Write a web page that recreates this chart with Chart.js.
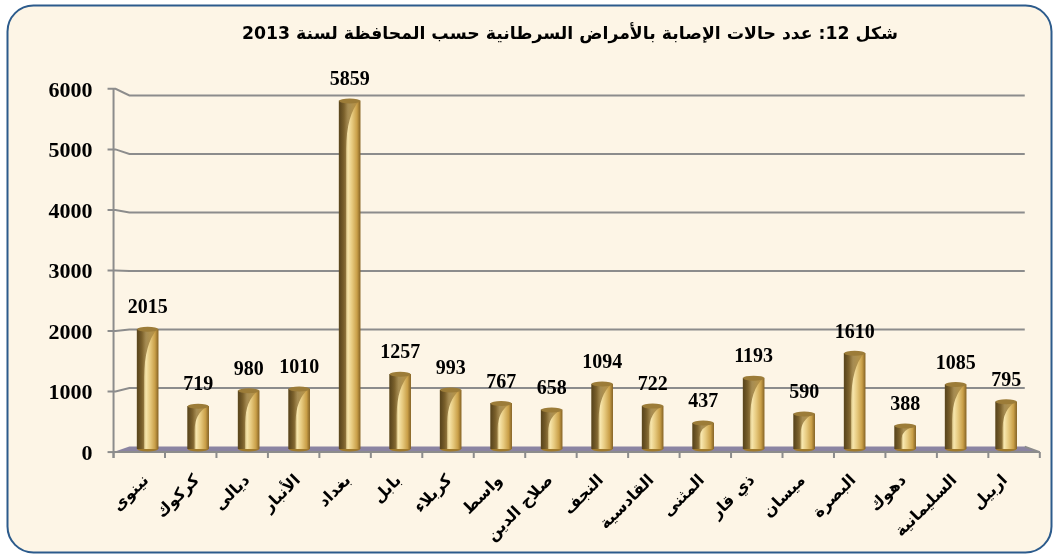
<!DOCTYPE html>
<html lang="ar">
<head>
<meta charset="utf-8">
<script src="https://cdn.jsdelivr.net/npm/chart.js@4.4.1/dist/chart.umd.min.js"></script>
<style>
    html, body { margin: 0; padding: 0; background: #fff; }
</style>
</head>
<body>
<canvas id="myChart" width="1059" height="556"></canvas>
<script>
// governorates, left to right as in the figure
const provinces = ['نينوى', 'كركوك', 'ديالى', 'الأنبار', 'بغداد', 'بابل', 'كربلاء', 'واسط', 'صلاح الدين',
    'النجف', 'القادسية', 'المثنى', 'ذي قار', 'ميسان', 'البصرة', 'دهوك', 'السليمانية', 'اربيل'];
const cases = [2015, 719, 980, 1010, 5859, 1257, 993, 767, 658, 1094, 722, 437, 1193, 590, 1610, 388, 1085, 795];
const yTicks = [0, 1000, 2000, 3000, 4000, 5000, 6000];
const chartTitle = 'شكل 12: عدد حالات الإصابة بالأمراض السرطانية حسب المحافظة لسنة 2013';

const ARABIC = '"DejaVu Sans", Arial, sans-serif';
const SERIF = '"Liberation Serif", "Times New Roman", serif';

// fake 3d: back wall a bit smaller than the bar plane, front edge a bit bigger
const BACK = 0.985, FRONT = 1.019;
function persp(chart, x, y, k) {
    const a = chart.chartArea;
    const cx = a.left + (a.right - a.left) * 0.513;
    const cy = a.top + (a.bottom - a.top) * 0.545;
    return [cx + (x - cx) * k, cy + (y - cy) * k];
}

// cream panel with the rounded blue border
const framePlugin = {
    id: 'frame',
    beforeDraw(chart) {
        const ctx = chart.ctx;
        ctx.save();
        ctx.fillStyle = '#fff';
        ctx.fillRect(0, 0, chart.width, chart.height);
        ctx.beginPath();
        ctx.roundRect(7.5, 5.5, 1044, 547, 26);
        ctx.fillStyle = '#fdf5e6';
        ctx.fill();
        ctx.lineWidth = 2;
        ctx.strokeStyle = '#2c5b8c';
        ctx.stroke();
        ctx.restore();
    }
};

// floor, wall gridlines, front axes and their labels
const roomPlugin = {
    id: 'room',
    beforeDatasetsDraw(chart) {
        const ctx = chart.ctx, a = chart.chartArea, ys = chart.scales.y, xs = chart.scales.x;
        const y0 = ys.getPixelForValue(0);
        const bl = persp(chart, a.left, y0, BACK), br = persp(chart, a.right, y0, BACK);
        const fl = persp(chart, a.left, y0, FRONT), fr = persp(chart, a.right, y0, FRONT);
        ctx.save();
        ctx.beginPath();
        ctx.moveTo(bl[0], bl[1]);
        ctx.lineTo(br[0], br[1]);
        ctx.lineTo(fr[0], fr[1]);
        ctx.lineTo(fl[0], fl[1]);
        ctx.closePath();
        ctx.fillStyle = '#8b84a2';
        ctx.fill();

        ctx.strokeStyle = '#8c8c8c';
        ctx.lineWidth = 2;
        ctx.font = 'bold 22px ' + SERIF;
        ctx.textAlign = 'right';
        ctx.textBaseline = 'middle';
        ctx.fillStyle = '#000';
        yTicks.forEach(v => {
            const y = ys.getPixelForValue(v);
            const f = persp(chart, a.left, y, FRONT);
            const b = persp(chart, a.left, y, BACK);
            const e = persp(chart, a.right, y, BACK);
            ctx.beginPath();
            ctx.moveTo(f[0] - 6, f[1]);
            ctx.lineTo(f[0] + 2, f[1]);
            if (v > 0) {
                ctx.lineTo(b[0], b[1]);
                ctx.lineTo(e[0], e[1]);
            }
            ctx.stroke();
            ctx.fillText(String(v), f[0] - 21, f[1] + 2);
        });
        // vertical axis
        const top = persp(chart, a.left, ys.getPixelForValue(yTicks[yTicks.length - 1]), FRONT);
        ctx.beginPath();
        ctx.moveTo(top[0], top[1]);
        ctx.lineTo(fl[0], fl[1] + 6);
        ctx.stroke();
        // front edge + category ticks
        ctx.beginPath();
        ctx.moveTo(fl[0], fl[1]);
        ctx.lineTo(fr[0], fr[1]);
        ctx.moveTo(br[0], br[1]);
        ctx.lineTo(fr[0], fr[1]);
        const n = provinces.length, step = (a.right - a.left) / n;
        for (let i = 0; i <= n; i++) {
            const p = persp(chart, a.left + i * step, y0, FRONT);
            ctx.moveTo(p[0], p[1]);
            ctx.lineTo(p[0], p[1] + 6);
        }
        ctx.stroke();

        // slanted category names, right end under the bar
        ctx.font = 'bold 16px ' + ARABIC;
        ctx.textAlign = 'right';
        ctx.textBaseline = 'middle';
        provinces.forEach((name, i) => {
            const x = xs.getPixelForValue(i);
            ctx.save();
            ctx.translate(x - 1, y0 + 29);
            ctx.rotate(-Math.PI / 4);
            ctx.fillText(name, 0, 0);
            ctx.restore();
        });
        ctx.restore();
    },
    // cylinder shading + value labels
    afterDatasetsDraw(chart) {
        const ctx = chart.ctx;
        const meta = chart.getDatasetMeta(0);
        ctx.save();
        meta.data.forEach((el, i) => {
            const w = el.width, x = el.x, y = el.y, base = el.base, h = base - y;
            const l = x - w / 2;
            ctx.save();
            ctx.beginPath();
            ctx.rect(l, y, w, h);
            ctx.clip();
            // dark swoosh at the top left
            const drop = Math.min(h * 0.55, 48);
            ctx.beginPath();
            ctx.moveTo(l, y);
            ctx.lineTo(l + w * 0.95, y);
            ctx.quadraticCurveTo(l + w * 0.35, y + drop * 0.3, l + w * 0.33, y + drop);
            ctx.lineTo(l + w * 0.33, base);
            ctx.lineTo(l, base);
            ctx.closePath();
            const g = ctx.createLinearGradient(l, 0, l + w * 0.95, 0);
            g.addColorStop(0, 'rgba(88,68,28,0.95)');
            g.addColorStop(0.35, 'rgba(128,100,45,0.75)');
            g.addColorStop(1, 'rgba(175,140,65,0.6)');
            ctx.fillStyle = g;
            ctx.fill();
            ctx.restore();
            // top rim
            ctx.beginPath();
            ctx.ellipse(x, y, w / 2, 2.5, 0, 0, Math.PI * 2);
            ctx.fillStyle = '#9c7c38';
            ctx.fill();
            // bottom rounding
            ctx.beginPath();
            ctx.ellipse(x, base, w / 2, 2.5, 0, 0, Math.PI);
            ctx.fillStyle = '#a07a2c';
            ctx.fill();

            ctx.fillStyle = '#000';
            ctx.font = 'bold 20px ' + SERIF;
            ctx.textAlign = 'center';
            ctx.textBaseline = 'middle';
            ctx.fillText(String(cases[i]), x, y - 21);
        });
        ctx.restore();
    }
};

// golden cylinder body, shaded left to right
function goldFill(c) {
    const s = c.chart.scales.x;
    const x = s && c.dataIndex !== undefined ? s.getPixelForValue(c.dataIndex) : NaN;
    if (!isFinite(x)) return '#d2ab55';
    const g = c.chart.ctx.createLinearGradient(x - 10.5, 0, x + 10.5, 0);
    g.addColorStop(0, '#5e4a1f');
    g.addColorStop(0.22, '#9a7d3c');
    g.addColorStop(0.42, '#f7e6ad');
    g.addColorStop(0.62, '#e6c97e');
    g.addColorStop(0.85, '#c99f48');
    g.addColorStop(1, '#8a6727');
    return g;
}

const ctx = document.getElementById('myChart').getContext('2d');
new Chart(ctx, {
    type: 'bar',
    data: {
        labels: provinces,
        datasets: [{
            data: cases,
            barThickness: 21,
            backgroundColor: goldFill,
            borderWidth: 0
        }]
    },
    options: {
        responsive: false,
        animation: false,
        layout: {padding: {left: 108.6, right: 27.6, top: 0, bottom: 27}},
        plugins: {
            legend: {display: false},
            tooltip: {enabled: false},
            title: {
                display: true,
                text: chartTitle,
                color: '#000',
                font: {family: ARABIC, size: 17.3, weight: 'bold'},
                padding: {top: 24.2, bottom: 47.6}
            }
        },
        scales: {
            x: {
                grid: {display: false, drawTicks: false},
                border: {display: false},
                afterFit: s => { s.height = 80; },
                ticks: {display: false}
            },
            y: {
                min: 0,
                max: 6000,
                grid: {display: false, drawTicks: false},
                border: {display: false},
                afterFit: s => { s.width = 13.8; },
                afterBuildTicks: s => { s.ticks = yTicks.map(v => ({value: v})); },
                ticks: {display: false}
            }
        }
    },
    plugins: [framePlugin, roomPlugin]
});
</script>
</body>
</html>
